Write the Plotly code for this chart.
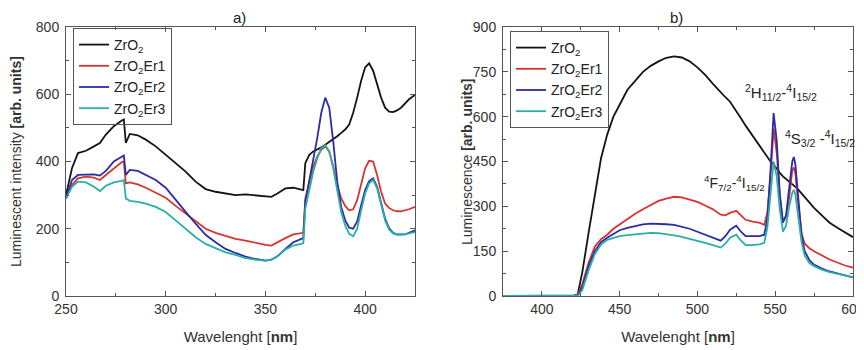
import plotly.graph_objects as go

# ---------------- Panel a) ----------------
wl_a = [250, 253, 256, 260, 264, 267, 270, 274, 278, 279, 280, 282, 286, 290, 295, 300, 305, 310, 315, 320,
        325, 330, 335, 340, 345, 350, 353, 356, 360, 364, 368, 369, 370, 372, 374, 376, 378, 380, 382, 384,
        386, 388, 390, 392, 394, 396, 398, 400, 402, 404, 406, 408, 410, 412, 414, 416, 418, 420, 422, 425]

a_zro2 = [300, 380, 425, 432, 445, 455, 480, 505, 522, 525, 455, 482, 478, 465, 445, 420, 395, 370, 340, 318,
          310, 305, 300, 302, 300, 298, 295, 305, 320, 322, 318, 315, 395, 420, 430, 435, 442, 450, 458, 465,
          475, 485, 495, 510, 545, 590, 640, 680, 692, 670, 630, 590, 560, 548, 547, 552, 560, 572, 585, 598]

a_er1 = [290, 330, 350, 355, 352, 345, 360, 380, 398, 400, 335, 338, 332, 322, 308, 292, 268, 245, 222, 200,
         188, 178, 170, 165, 158, 152, 150, 160, 172, 183, 188, 188, 290, 340, 385, 415, 435, 445, 430, 385,
         330, 290, 268, 255, 258, 285, 330, 380, 402, 400, 360, 310, 275, 262, 255, 252, 252, 255, 258, 265]

a_er2 = [290, 345, 360, 360, 362, 358, 372, 400, 415, 418, 360, 375, 372, 360, 345, 322, 285, 250, 215, 182,
         160, 140, 128, 117, 110, 105, 108, 118, 140, 160, 170, 172, 280, 340, 400, 470, 545, 590, 560, 460,
         340, 265, 225, 203, 200, 222, 270, 315, 342, 350, 325, 275, 230, 202, 188, 183, 182, 183, 188, 195]

a_er3 = [290, 325, 340, 338, 325, 312, 328, 338, 342, 345, 290, 283, 280, 275, 265, 250, 225, 200, 175, 155,
         142, 130, 122, 113, 108, 105, 108, 118, 138, 150, 155, 157, 260, 320, 370, 410, 440, 448, 430, 380,
         310, 250, 210, 185, 178, 200, 255, 305, 335, 345, 320, 270, 225, 198, 186, 182, 182, 183, 186, 190]

# ---------------- Panel b) ----------------
wl_b = [375, 400, 415, 420, 423, 426, 430, 434, 438, 442, 446, 450, 455, 460, 465, 470, 475, 480, 485, 490,
        495, 500, 505, 510, 515, 518, 521, 525, 528, 531, 535, 540, 543, 545, 547, 549, 551, 553, 555, 557,
        559, 561, 562, 563, 565, 567, 569, 572, 575, 580, 585, 590, 595, 600]

b_zro2 = [0, 0, 0, 0, 5, 80, 210, 340, 460, 540, 600, 640, 690, 720, 750, 770, 785, 797, 802, 798,
          785, 765, 740, 710, 680, 665, 650, 620, 595, 570, 540, 500, 480, 463, 450, 440, 425, 412, 400, 392,
          382, 375, 370, 365, 355, 343, 333, 315, 295, 270, 245, 228, 212, 197]

b_er1 = [0, 0, 0, 0, 5, 40, 110, 165, 190, 205, 225, 240, 258, 275, 290, 305, 318, 326, 332, 330,
         322, 315, 303, 290, 272, 270, 278, 285, 270, 255, 250, 245, 238, 280, 400, 560, 480, 330, 250, 265,
         330, 420, 430, 410, 300, 210, 175, 160, 150, 135, 122, 112, 102, 95]

b_er2 = [0, 0, 0, 0, 2, 30, 100, 150, 180, 195, 208, 220, 228, 235, 240, 242, 242, 240, 238, 232,
         225, 215, 205, 195, 185, 200, 222, 235, 215, 200, 200, 200, 205, 260, 420, 612, 520, 340, 245, 270,
         360, 450, 465, 440, 320, 200, 150, 120, 105, 92, 82, 75, 68, 62]

b_er3 = [0, 0, 0, 0, 0, 20, 85, 140, 172, 188, 195, 200, 204, 207, 210, 211, 210, 207, 203, 198,
         192, 185, 178, 170, 162, 175, 195, 205, 185, 170, 170, 173, 178, 230, 340, 450, 400, 290, 215, 235,
         300, 345, 355, 340, 260, 180, 135, 110, 100, 88, 80, 74, 68, 63]

names = ["ZrO<sub>2</sub>", "ZrO<sub>2</sub>Er1", "ZrO<sub>2</sub>Er2", "ZrO<sub>2</sub>Er3"]
colors = ["#141414", "#d83232", "#2b2ba6", "#2aaea6"]

FONT = "Liberation Sans, Arial, sans-serif"

fig = go.Figure()
for nm, col, ys in zip(names, colors, [a_zro2, a_er1, a_er2, a_er3]):
    fig.add_trace(go.Scatter(x=wl_a, y=ys, mode="lines", name=nm, line=dict(color=col, width=1.8),
                             xaxis="x", yaxis="y", legend="legend"))
for nm, col, ys in zip(names, colors, [b_zro2, b_er1, b_er2, b_er3]):
    fig.add_trace(go.Scatter(x=wl_b, y=ys, mode="lines", name=nm, line=dict(color=col, width=1.8),
                             xaxis="x2", yaxis="y2", legend="legend2"))

# page body has an 8px margin, so the figure is laid out 8px up/left of the reference pixels
OFF = 8
W, H = 864 - OFF, 350 - OFF
top, bottom = 27 - OFF, 296 - OFF
mt, mb = top, H - bottom
ph = bottom - top


def px_x(px):
    return (px - OFF) / W


def px_y(py):
    return (bottom - (py - OFF)) / ph


def ax_common():
    return dict(showline=True, linecolor="#555", linewidth=1, mirror="ticks", ticks="inside",
                ticklen=5, tickcolor="#555", showgrid=False, zeroline=False, automargin=False,
                ticklabeloverflow="allow",
                tickfont=dict(family=FONT, size=14, color="#333"),
                minor=dict(ticks="inside", ticklen=3, tickcolor="#555"))


xa = ax_common()
xa.update(domain=[px_x(66), px_x(415)], range=[250, 425], dtick=50, tick0=250, anchor="y",
          title=dict(text="Wavelenght [<b>nm</b>]", font=dict(family=FONT, size=15, color="#333"), standoff=15))
xa["minor"].update(dtick=25)
ya = ax_common()
ya.update(domain=[0, 1], range=[0, 800], dtick=200, anchor="x", ticklabelstandoff=3)
ya["minor"].update(dtick=100)

xb = ax_common()
xb.update(domain=[px_x(503), px_x(853)], range=[375, 600.05], dtick=50, tick0=400, anchor="y2",
          title=dict(text="Wavelenght [<b>nm</b>]", font=dict(family=FONT, size=15, color="#333"), standoff=15))
xb["minor"].update(dtick=25, tick0=375)
yb = ax_common()
yb.update(domain=[0, 1], range=[0, 900], dtick=150, anchor="x2", ticklabelstandoff=3)
yb["minor"].update(dtick=75)

leg_common = dict(bordercolor="#555", borderwidth=1, bgcolor="rgba(255,255,255,0)",
                  font=dict(family=FONT, size=14, color="#222"), xanchor="left", yanchor="top",
                  tracegroupgap=0, itemwidth=30)

txt = dict(family=FONT, size=15, color="#222")
ctr = dict(xanchor="center", yanchor="middle", showarrow=False)
fig.update_layout(
    width=W, height=H, margin=dict(l=0, r=0, t=mt, b=mb, autoexpand=False),
    paper_bgcolor="white", plot_bgcolor="white",
    xaxis=xa, yaxis=ya, xaxis2=xb, yaxis2=yb,
    legend=dict(x=px_x(73), y=px_y(28), **leg_common),
    legend2=dict(x=px_x(510), y=px_y(31), **leg_common),
    annotations=[
        dict(text="a)", x=px_x(240), y=px_y(17), xref="paper", yref="paper", font=txt, **ctr),
        dict(text="b)", x=px_x(676), y=px_y(17), xref="paper", yref="paper", font=txt, **ctr),
        dict(text="Luminescent intensity <b>[arb. units]</b>", x=px_x(16), y=px_y(162), xref="paper",
             yref="paper", textangle=-90, font=dict(family=FONT, size=14, color="#333"), **ctr),
        dict(text="Luminescence <b>[arb. units]</b>", x=px_x(467), y=px_y(162), xref="paper",
             yref="paper", textangle=-90, font=dict(family=FONT, size=14, color="#333"), **ctr),
        dict(text="<sup>2</sup>H<sub>11/2</sub>-<sup>4</sup>I<sub>15/2</sub>", x=554, y=682, xref="x2", yref="y2",
             font=txt, **ctr),
        dict(text="<sup>4</sup>S<sub>3/2</sub> -<sup>4</sup>I<sub>15/2</sub>", x=579, y=528, xref="x2", yref="y2",
             font=txt, **ctr),
        dict(text="<sup>4</sup>F<sub>7/2</sub>-<sup>4</sup>I<sub>15/2</sub>", x=524, y=378, xref="x2", yref="y2",
             font=dict(family=FONT, size=14, color="#222"), **ctr),
    ],
)

fig.write_html("out.html")
